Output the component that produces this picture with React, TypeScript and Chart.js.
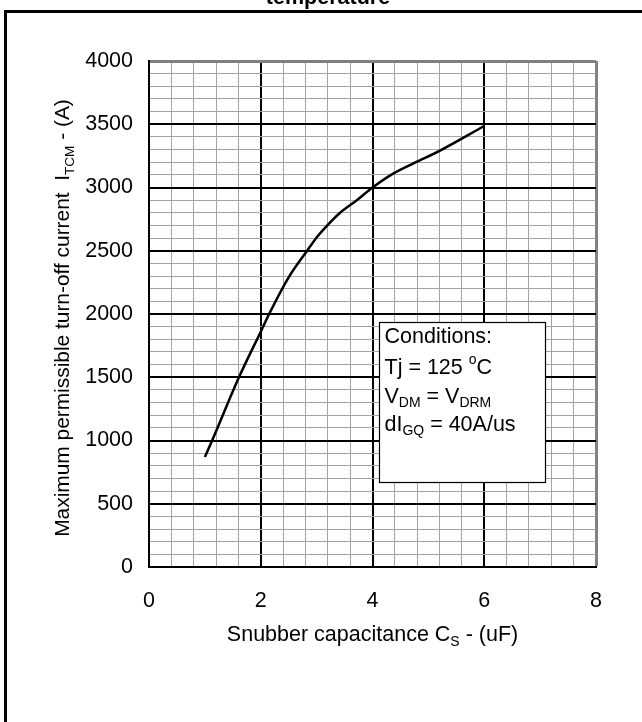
import React, { useEffect, useRef } from 'react';
import { Chart, registerables } from 'chart.js';

Chart.register(...registerables);

// ---- data ----
const capacitance = [1.0, 1.13, 1.61, 2.0, 2.15, 2.5, 2.83, 3.0, 3.18, 3.42, 3.72, 4.0, 4.37, 4.75, 5.2, 6.0];
const currentA = [870, 1000, 1500, 1860, 2000, 2290, 2500, 2605, 2695, 2800, 2900, 3000, 3110, 3195, 3290, 3486];
const xTickLabels = ['0', '2', '4', '6', '8'];
const yTickLabels = ['0', '500', '1000', '1500', '2000', '2500', '3000', '3500', '4000'];
const titleText = 'temperature';
const conditionLines = [
  [{ t: 'Conditions:' }],
  [{ t: 'Tj = 125 ' }, { t: 'o', sup: true }, { t: 'C' }],
  [{ t: 'V' }, { t: 'DM', sub: true }, { t: ' = V' }, { t: 'DRM', sub: true }],
  [{ t: 'dI' }, { t: 'GQ', sub: true }, { t: ' = 40A/us' }],
];
const xTitle = [{ t: 'Snubber capacitance C' }, { t: 'S', sub: true }, { t: ' - (uF)' }];
const yTitle = [
  { t: 'Maximum permissible turn-off current  I' },
  { t: 'TCM', sub: true },
  { t: ' - (A)' },
];

const FONT = 'Arial, "Liberation Sans", sans-serif';
const FS = 21.5;
const FS_Y = 20.9;

type Part = { t: string; sub?: boolean; sup?: boolean };

function measureRich(ctx: CanvasRenderingContext2D, parts: Part[], size: number) {
  let w = 0;
  for (const p of parts) {
    const s = p.sub || p.sup ? size * 0.65 : size;
    ctx.font = `${s}px ${FONT}`;
    w += ctx.measureText(p.t).width;
  }
  return w;
}

function drawRich(ctx: CanvasRenderingContext2D, parts: Part[], x: number, y: number, size: number) {
  let cx = x;
  ctx.textAlign = 'left';
  ctx.textBaseline = 'alphabetic';
  for (const p of parts) {
    const s = p.sub || p.sup ? size * 0.65 : size;
    ctx.font = `${s}px ${FONT}`;
    const dy = p.sub ? size * 0.22 : p.sup ? -size * 0.42 : 0;
    ctx.fillText(p.t, cx, y + dy);
    cx += ctx.measureText(p.t).width;
  }
}

const near = (v: number, step: number) => Math.abs(v / step - Math.round(v / step)) < 1e-6;

const decorPlugin = {
  id: 'decor',
  afterDraw(chart: any) {
    const ctx: CanvasRenderingContext2D = chart.ctx;
    const xs = chart.scales.x;
    const ys = chart.scales.y;
    ctx.save();
    ctx.fillStyle = '#000';

    // outer frame
    ctx.strokeStyle = '#000';
    ctx.lineWidth = 3;
    ctx.beginPath();
    ctx.moveTo(5.5, 722);
    ctx.lineTo(5.5, 11.5);
    ctx.lineTo(642, 11.5);
    ctx.stroke();

    // title (cut at top)
    ctx.font = `bold ${FS}px ${FONT}`;
    ctx.textAlign = 'center';
    ctx.textBaseline = 'alphabetic';
    ctx.fillText(titleText, 328, 4);

    // conditions box
    const bx0 = Math.round(xs.getPixelForValue(4.12)) + 0.5;
    const bx1 = Math.round(xs.getPixelForValue(7.08)) + 0.5;
    const by0 = Math.round(ys.getPixelForValue(1937)) + 0.5;
    const by1 = Math.round(ys.getPixelForValue(672)) + 0.5;
    ctx.fillStyle = '#fff';
    ctx.fillRect(bx0, by0, bx1 - bx0, by1 - by0);
    ctx.lineWidth = 1.2;
    ctx.strokeStyle = '#000';
    ctx.strokeRect(bx0, by0, bx1 - bx0, by1 - by0);
    ctx.fillStyle = '#000';
    const offs = [20, 51, 80, 108];
    conditionLines.forEach((line, i) => drawRich(ctx, line as Part[], bx0 + 5, by0 + offs[i], FS));

    // x axis title
    const cxm = (chart.chartArea.left + chart.chartArea.right) / 2;
    const wx = measureRich(ctx, xTitle, FS);
    drawRich(ctx, xTitle, cxm - wx / 2, 641, FS);

    // y axis title
    const cym = (chart.chartArea.top + chart.chartArea.bottom) / 2;
    const wy = measureRich(ctx, yTitle, FS_Y);
    ctx.translate(69, cym + 4);
    ctx.rotate(-Math.PI / 2);
    drawRich(ctx, yTitle, -wy / 2, 0, FS_Y);

    ctx.restore();
  },
};

export default function App() {
  const ref = useRef<HTMLCanvasElement | null>(null);

  useEffect(() => {
    if (!ref.current) return;
    const chart = new Chart(ref.current, {
      type: 'line',
      data: {
        datasets: [
          {
            data: capacitance.map((x, i) => ({ x, y: currentA[i] })),
            borderColor: '#000',
            borderWidth: 2.5,
            pointRadius: 0,
            fill: false,
            cubicInterpolationMode: 'monotone',
          },
        ],
      },
      options: {
        animation: false,
        responsive: false,
        devicePixelRatio: 1,
        layout: { padding: { left: 0, right: 46, top: 61, bottom: 0 } },
        plugins: { legend: { display: false }, tooltip: { enabled: false }, title: { display: false } },
        scales: {
          x: {
            type: 'linear',
            min: 0,
            max: 8,
            afterFit: (s: any) => {
              s.height = 155;
            },
            ticks: {
              stepSize: 0.4,
              autoSkip: false,
              maxRotation: 0,
              padding: 21,
              color: '#000',
              font: { family: FONT, size: FS },
              callback: (v: any) => (near(Number(v), 2) ? xTickLabels[Math.round(Number(v) / 2)] : ''),
            },
            grid: {
              drawTicks: false,
              color: (c: any) => {
                const v = c.tick?.value ?? 0;
                if (Math.abs(v - 8) < 1e-6) return '#808080';
                return near(v, 2) ? '#000' : '#a4a4a4';
              },
              lineWidth: (c: any) => {
                const v = c.tick?.value ?? 0;
                if (Math.abs(v - 8) < 1e-6) return 3;
                return near(v, 2) ? 2 : 1;
              },
            },
            border: { display: true, color: '#000', width: 2 },
          },
          y: {
            type: 'linear',
            min: 0,
            max: 4000,
            afterFit: (s: any) => {
              s.width = 149;
            },
            ticks: {
              stepSize: 100,
              autoSkip: false,
              padding: 16,
              color: '#000',
              font: { family: FONT, size: FS },
              callback: (v: any) => (near(Number(v), 500) ? yTickLabels[Math.round(Number(v) / 500)] : ''),
            },
            grid: {
              drawTicks: false,
              color: (c: any) => {
                const v = c.tick?.value ?? 0;
                if (Math.abs(v - 4000) < 1e-6) return '#808080';
                return near(v, 500) ? '#000' : '#a4a4a4';
              },
              lineWidth: (c: any) => {
                const v = c.tick?.value ?? 0;
                if (Math.abs(v - 4000) < 1e-6) return 3;
                return near(v, 500) ? 2 : 1;
              },
            },
            border: { display: true, color: '#000', width: 2 },
          },
        },
      },
      plugins: [decorPlugin],
    } as any);
    return () => chart.destroy();
  }, []);

  return (
    <div style={{ position: 'absolute', left: 0, top: 0, width: 642, height: 722, background: '#fff' }}>
      <canvas ref={ref} width={642} height={722} style={{ display: 'block', width: 642, height: 722 }} />
    </div>
  );
}
